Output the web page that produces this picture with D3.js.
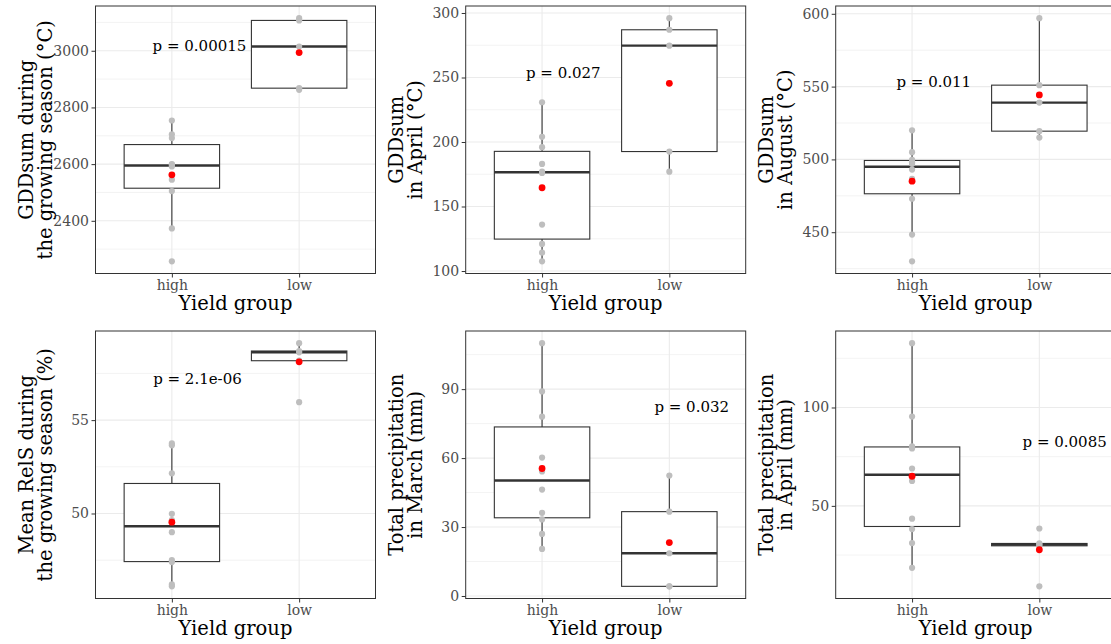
<!DOCTYPE html>
<html>
<head>
<meta charset="utf-8">
<script src="https://cdn.jsdelivr.net/npm/d3@7"></script>
<style>
  body { margin: 0; background: #fff; }
  text { font-family: "DejaVu Serif", serif; }
</style>
</head>
<body>
<svg id="chart" width="1111" height="644"></svg>
<script>
const groups = ["high", "low"];

// values per yield group
const gddSeasonHigh = [2257, 2373, 2505, 2545, 2592, 2598, 2600, 2692, 2705, 2754];
const gddSeasonLow = [2862, 2868, 3015, 3107, 3115];
const gddAprilHigh = [107.5, 114.2, 121, 136, 176, 177, 183, 196, 204, 230.8];
const gddAprilLow = [177, 192.6, 274.7, 287, 296];
const gddAugustHigh = [430, 448.4, 473, 486.6, 493, 497, 498, 499.7, 505, 520];
const gddAugustLow = [515, 519.4, 539, 551, 597];
const relsHigh = [46.1, 46.2, 47.4, 47.5, 49.0, 49.64, 49.98, 52.15, 53.65, 53.75];
const relsLow = [55.96, 58.18, 58.63, 58.7, 59.12];
const precMarchHigh = [20.5, 27, 33.3, 36.2, 46.3, 54.2, 60.2, 78, 89, 110];
const precMarchLow = [4.2, 4.2, 18.6, 36.7, 52.4];
const precAprilHigh = [18.5, 31.1, 38.2, 43.5, 62.7, 69, 79.2, 80.2, 95.4, 132.7];
const precAprilLow = [9.1, 29.7, 30.3, 30.9, 38.5];

const yTitles = [
    ["GDDsum during", "the growing season (°C)"],
    ["GDDsum", "in April (°C)"],
    ["GDDsum", "in August (°C)"],
    ["Mean RelS during", "the growing season (%)"],
    ["Total precipitation", "in March (mm)"],
    ["Total precipitation", "in April (mm)"]
];
const yTicks = [
    [2400, 2600, 2800, 3000],
    [100, 150, 200, 250, 300],
    [450, 500, 550, 600],
    [50, 55],
    [0, 30, 60, 90],
    [50, 100]
];
const pLabels = ["p = 0.00015", "p = 0.027", "p = 0.011", "p = 2.1e-06", "p = 0.032", "p = 0.0085"];
// label centre: x in group units (high = 1, low = 2), y in data units
const pLabelX = [1.217, 1.167, 1.171, 1.201, 2.176, 2.199];
const pLabelY = [3018, 253.9, 553.5, 57.2, 82.2, 82.4];

const panels = [
    { high: gddSeasonHigh, low: gddSeasonLow },
    { high: gddAprilHigh, low: gddAprilLow },
    { high: gddAugustHigh, low: gddAugustLow },
    { high: relsHigh, low: relsLow },
    { high: precMarchHigh, low: precMarchLow },
    { high: precAprilHigh, low: precAprilLow }
];

const svg = d3.select("#chart");
const colLeft = [95.5, 465.7, 835.7];
const rowTop = [6, 331];
const plotW = 280, plotH = 267.5;
const ink = "#333333";

function boxStats(vals) {
    const s = vals.slice().sort(d3.ascending);
    const q1 = d3.quantile(s, 0.25), med = d3.quantile(s, 0.5), q3 = d3.quantile(s, 0.75);
    const iqr = q3 - q1;
    return {
        q1, med, q3,
        lo: d3.min(s.filter(v => v >= q1 - 1.5 * iqr)),
        hi: d3.max(s.filter(v => v <= q3 + 1.5 * iqr)),
        mean: d3.mean(s)
    };
}

function drawPanel(p, i) {
    const g = svg.append("g")
        .attr("transform", `translate(${colLeft[i % 3]},${rowTop[Math.floor(i / 3)]})`);

    const [mn, mx] = d3.extent(p.high.concat(p.low));
    const pad = (mx - mn) * 0.05;
    const y = d3.scaleLinear().domain([mn - pad, mx + pad]).range([plotH, 0]);
    const x = d3.scalePoint().domain(groups).range([0, plotW]).padding(0.6);
    const step = x.step();
    const gx = v => x("high") + (v - 1) * step;

    // minor grid halfway between breaks
    const ticks = yTicks[i];
    const tStep = ticks[1] - ticks[0];
    const minor = d3.range(ticks[0] - tStep / 2, ticks[ticks.length - 1] + tStep, tStep)
        .filter(v => v > y.domain()[0] && v < y.domain()[1]);

    g.selectAll(".minor").data(minor).join("line")
        .attr("x1", 0).attr("x2", plotW)
        .attr("y1", d => y(d)).attr("y2", d => y(d))
        .attr("stroke", "#EBEBEB").attr("stroke-width", 0.6);
    g.selectAll(".major").data(ticks).join("line")
        .attr("x1", 0).attr("x2", plotW)
        .attr("y1", d => y(d)).attr("y2", d => y(d))
        .attr("stroke", "#EBEBEB").attr("stroke-width", 1.1);
    g.selectAll(".vgrid").data(groups).join("line")
        .attr("x1", d => x(d)).attr("x2", d => x(d))
        .attr("y1", 0).attr("y2", plotH)
        .attr("stroke", "#EBEBEB").attr("stroke-width", 1.1);

    const bw = step * 0.75;
    groups.forEach(grp => {
        const st = boxStats(p[grp]);
        const cx = x(grp);
        const bg = g.append("g");
        bg.append("line")
            .attr("x1", cx).attr("x2", cx).attr("y1", y(st.q3)).attr("y2", y(st.hi))
            .attr("stroke", ink).attr("stroke-width", 1.1);
        bg.append("line")
            .attr("x1", cx).attr("x2", cx).attr("y1", y(st.q1)).attr("y2", y(st.lo))
            .attr("stroke", ink).attr("stroke-width", 1.1);
        bg.append("rect")
            .attr("x", cx - bw / 2).attr("width", bw)
            .attr("y", y(st.q3)).attr("height", y(st.q1) - y(st.q3))
            .attr("fill", "#fff").attr("stroke", ink).attr("stroke-width", 1.1);
        bg.append("line")
            .attr("x1", cx - bw / 2).attr("x2", cx + bw / 2)
            .attr("y1", y(st.med)).attr("y2", y(st.med))
            .attr("stroke", ink).attr("stroke-width", 2.4);

        bg.selectAll("circle.pt").data(p[grp]).join("circle")
            .attr("cx", cx).attr("cy", d => y(d)).attr("r", 3.1)
            .attr("fill", "#BEBEBE");
        bg.append("circle")
            .attr("cx", cx).attr("cy", y(st.mean)).attr("r", 3.4)
            .attr("fill", "#FF0000");
    });

    g.append("text")
        .attr("x", gx(pLabelX[i])).attr("y", y(pLabelY[i]))
        .attr("dy", "0.35em").attr("text-anchor", "middle")
        .attr("font-size", 15).attr("fill", "#000")
        .text(pLabels[i]);

    g.append("rect")
        .attr("width", plotW).attr("height", plotH)
        .attr("fill", "none").attr("stroke", ink).attr("stroke-width", 1);

    const ya = g.append("g")
        .call(d3.axisLeft(y).tickValues(ticks).tickFormat(d3.format("d")).tickSize(4).tickPadding(2.5));
    const xa = g.append("g").attr("transform", `translate(0,${plotH})`)
        .call(d3.axisBottom(x).tickSize(4).tickPadding(3));
    [ya, xa].forEach(a => {
        a.select(".domain").remove();
        a.selectAll("line").attr("stroke", ink);
        a.selectAll("text").attr("fill", "#4D4D4D")
            .attr("font-size", 14).attr("font-family", "DejaVu Serif, serif");
    });

    g.append("text")
        .attr("x", plotW / 2).attr("y", plotH + 36)
        .attr("text-anchor", "middle").attr("font-size", 19.5)
        .text("Yield group");

    const yt = g.append("text")
        .attr("transform", `translate(-63,${plotH / 2}) rotate(-90)`)
        .attr("text-anchor", "middle").attr("font-size", 19.5);
    yTitles[i].forEach((line, k) => {
        yt.append("tspan").attr("x", 0).attr("y", k * 19.5).text(line);
    });
}

panels.forEach(drawPanel);
</script>
</body>
</html>
